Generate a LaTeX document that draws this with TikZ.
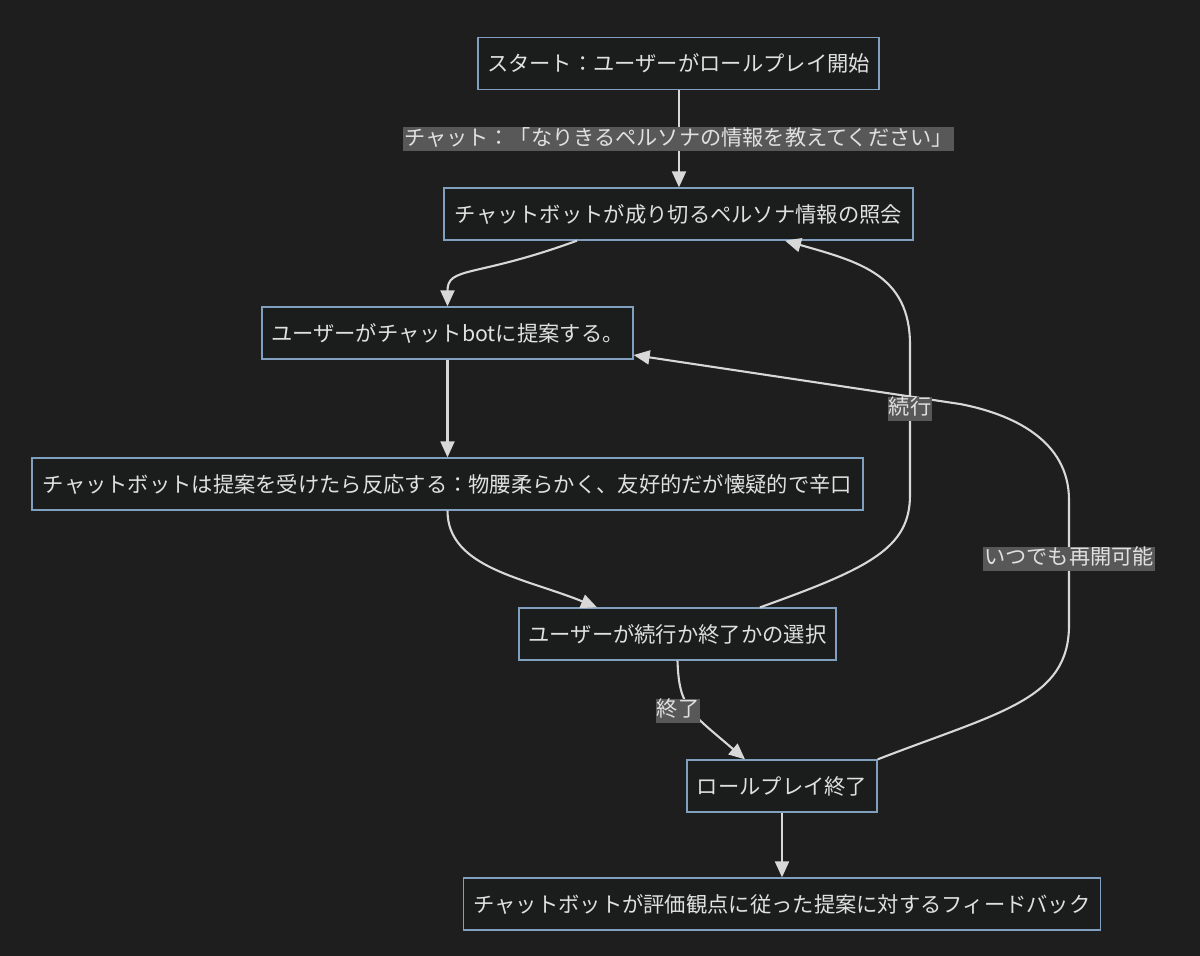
\documentclass[tikz,border=0pt]{standalone}
\usepackage{fontspec}
\setmainfont{Noto Sans CJK JP}
\usetikzlibrary{arrows.meta}
\definecolor{bgc}{HTML}{1E1E1E}
\definecolor{boxfill}{HTML}{1B1C1C}
\definecolor{boxline}{HTML}{819FBE}
\definecolor{txt}{HTML}{E0E0E0}
\definecolor{edgec}{HTML}{D8D8D8}
\definecolor{lblfill}{HTML}{585858}
\tikzset{
  box/.style={draw=boxline, fill=boxfill, line width=1.3pt, minimum height=52pt,
    inner sep=0pt, text=txt, font=\fontsize{21.3}{26}\selectfont},
  conn/.style={draw=edgec, line width=2.1pt, -{Triangle[length=16pt,width=14pt]}},
  lbl/.style={fill=lblfill, text=txt, inner xsep=1pt, inner ysep=1.5pt,
    text height=16.5pt, text depth=4.5pt, font=\fontsize{21.2}{26}\selectfont},
}
\begin{document}
\begin{tikzpicture}[x=1pt,y=-1pt]
\fill[bgc] (0,0) rectangle (1200,956);
\useasboundingbox (0,0) rectangle (1200,956);

\node[box, minimum width=401pt] (n1) at (678.5,63.5) {スタート：ユーザーがロールプレイ開始};
\node[box, minimum width=469pt] (n2) at (678.5,214) {チャットボットが成り切るペルソナ情報の照会};
\node[box, minimum width=371pt] (n3) at (447.5,333) {ユーザーがチャットbotに提案する。};
\node[box, minimum width=831pt] (n4) at (447.5,484) {チャットボットは提案を受けたら反応する：物腰柔らかく、友好的だが懐疑的で辛口};
\node[box, minimum width=317pt] (n5) at (677.5,634) {ユーザーが続行か終了かの選択};
\node[box, minimum width=190pt] (n6) at (782,786) {ロールプレイ終了};
\node[box, minimum width=637pt] (n7) at (782,904) {チャットボットが評価観点に従った提案に対するフィードバック};

% edges
\draw[conn] ([xshift=0.5pt]n1.south) -- ([xshift=0.5pt]n2.north);
\draw[conn] ([xshift=-101.5pt]n2.south) .. controls (475,278) and (447.5,266) .. (n3.north);
\draw[conn] (n3.south) -- (n4.north);
\draw[conn] (n4.south) .. controls (447.5,568) and (525,578) .. ([xshift=-80.5pt]n5.north);
\draw[conn] ([xshift=82.5pt]n5.north) .. controls (870,568) and (910,548) .. (910,495)
  -- (910,345) .. controls (910,275) and (860,262) .. ([xshift=106.5pt]n2.south);
\draw[conn] (n5.south) .. controls (679,708) and (690,712) .. ([xshift=-37pt]n6.north);
\draw[conn] (n6.north east) .. controls (1000,712) and (1069,700) .. (1069,625)
  -- (1069,500) .. controls (1069,440) and (1012,414) .. (960,404)
  -- ([yshift=-22pt]n3.east);
\draw[conn] (n6.south) -- (n7.north);

% labels
\node[lbl] (l1) at (678.5,139) {チャット：「なりきるペルソナの情報を教えてください」};
\node[lbl] (l2) at (910,408.5) {続行};
\node[lbl] (l3) at (678,710.5) {終了};
\node[lbl] (l4) at (1069,558.5) {いつでも再開可能};
\end{tikzpicture}
\end{document}
